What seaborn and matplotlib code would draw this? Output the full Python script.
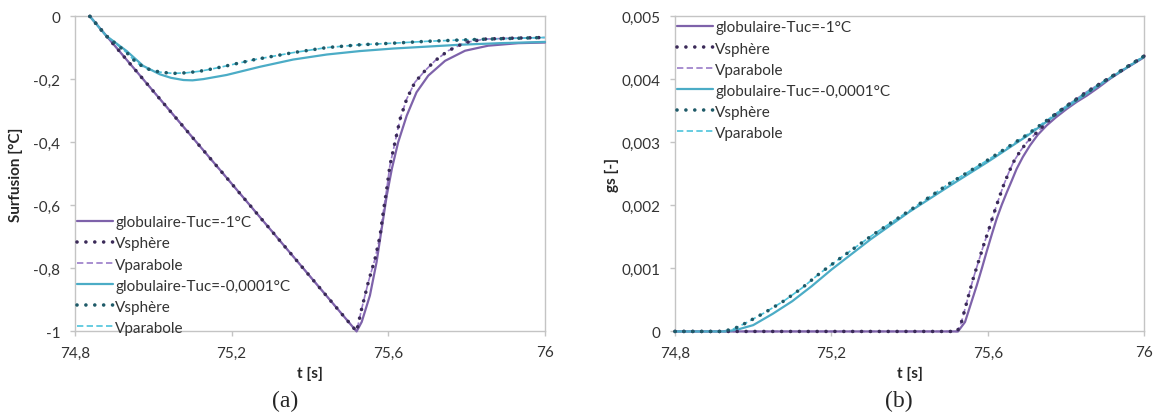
import matplotlib
matplotlib.use("Agg")
import matplotlib.pyplot as plt
import seaborn as sns
from matplotlib.ticker import FuncFormatter

sns.set_style("white")
plt.rcParams['font.family'] = ['Lato', 'DejaVu Sans']

# --- (a) undercooling, Tuc = -1 °C ---
a_t_glob1 = [74.838, 75.2, 75.519, 75.532, 75.553, 75.570, 75.583, 75.596, 75.609, 75.625,
             75.647, 75.672, 75.702, 75.745, 75.796, 75.855, 75.932, 76.0]
a_v_glob1 = [0.0, -0.531, -1.0, -0.970, -0.886, -0.780, -0.674, -0.569, -0.484, -0.400,
             -0.315, -0.241, -0.188, -0.141, -0.109, -0.093, -0.085, -0.083]
a_t_sph1 = [74.838, 75.2, 75.519, 75.532, 75.549, 75.566, 75.579, 75.587, 75.596, 75.604,
            75.617, 75.630, 75.647, 75.668, 75.694, 75.719, 75.753, 75.796, 75.847, 75.920, 76.0]
a_v_sph1 = [0.0, -0.531, -1.0, -0.928, -0.843, -0.770, -0.696, -0.622, -0.548, -0.474,
            -0.400, -0.326, -0.262, -0.209, -0.172, -0.141, -0.109, -0.083, -0.072, -0.069, -0.067]
a_t_par1, a_v_par1 = a_t_sph1, a_v_sph1   # Vparabole lies under Vsphère

# --- (a) undercooling, Tuc = -0.0001 °C ---
a_t_glob2 = [74.838, 74.880, 74.932, 74.974, 75.017, 75.045, 75.077, 75.100, 75.128, 75.187,
             75.272, 75.357, 75.443, 75.528, 75.613, 75.698, 75.783, 75.885, 76.0]
a_v_glob2 = [0.0, -0.062, -0.110, -0.157, -0.184, -0.195, -0.202, -0.203, -0.199, -0.186,
             -0.160, -0.137, -0.121, -0.110, -0.102, -0.096, -0.090, -0.085, -0.081]
a_t_sph2 = [74.838, 74.880, 74.932, 74.957, 74.983, 75.017, 75.051, 75.085, 75.119, 75.153,
            75.187, 75.255, 75.357, 75.443, 75.528, 75.613, 75.700, 75.783, 75.885, 76.0]
a_v_sph2 = [0.0, -0.062, -0.115, -0.147, -0.166, -0.177, -0.181, -0.179, -0.174, -0.166,
            -0.157, -0.138, -0.115, -0.099, -0.090, -0.085, -0.079, -0.075, -0.071, -0.067]
a_t_par2, a_v_par2 = a_t_sph2, a_v_sph2

# --- (b) solid fraction, Tuc = -1 °C ---
b_t_glob1 = [74.80, 75.524, 75.542, 75.557, 75.572, 75.585, 75.597, 75.610, 75.623, 75.636,
             75.649, 75.662, 75.674, 75.690, 75.708, 75.728, 75.751, 75.775, 75.802, 75.827,
             75.853, 75.883, 75.913, 75.955, 76.0]
b_g_glob1 = [0.0, 0.0, 0.00015, 0.00044, 0.00073, 0.00100, 0.00126, 0.00153, 0.00179, 0.00201,
             0.00221, 0.00240, 0.00258, 0.00277, 0.00295, 0.00312, 0.00327, 0.00340, 0.00353, 0.00364,
             0.00374, 0.00387, 0.00401, 0.00418, 0.00435]
b_t_sph1 = [74.80, 75.522, 75.533, 75.548, 75.563, 75.576, 75.589, 75.602, 75.614, 75.627,
            75.640, 75.653, 75.666, 75.683, 75.700, 75.734, 75.768, 75.802, 75.850, 75.900,
            75.950, 76.0]
b_g_sph1 = [0.0, 0.0, 0.00015, 0.00050, 0.00084, 0.00110, 0.00136, 0.00160, 0.00184, 0.00208,
            0.00231, 0.00251, 0.00269, 0.00286, 0.00300, 0.00321, 0.00342, 0.00358, 0.00379, 0.00398,
            0.00417, 0.00437]
b_t_par1, b_g_par1 = b_t_sph1, b_g_sph1

# --- (b) solid fraction, Tuc = -0.0001 °C ---
b_t_glob2 = [74.80, 74.93, 74.96, 75.00, 75.05, 75.10, 75.15, 75.20, 75.30, 75.40,
             75.50, 75.60, 75.70, 75.80, 75.90, 76.0]
b_g_glob2 = [0.0, 0.0, 0.00003, 0.00010, 0.00028, 0.00048, 0.00072, 0.00098, 0.00146, 0.00190,
             0.00230, 0.00269, 0.00310, 0.00355, 0.00397, 0.00436]
b_t_sph2 = [74.80, 74.92, 74.95, 74.98, 75.03, 75.08, 75.125, 75.17, 75.22, 75.31,
            75.41, 75.50, 75.60, 75.70, 75.80, 75.90, 76.0]
b_g_sph2 = [0.0, 0.0, 0.00004, 0.00013, 0.00030, 0.00049, 0.00069, 0.00092, 0.00115, 0.00155,
            0.00196, 0.00234, 0.00272, 0.00312, 0.00357, 0.00398, 0.00437]
b_t_par2, b_g_par2 = b_t_sph2, b_g_sph2

labels = ['globulaire-Tuc=-1°C', 'Vsphère', 'Vparabole',
          'globulaire-Tuc=-0,0001°C', 'Vsphère', 'Vparabole']
x_ticks = [74.8, 75.2, 75.6, 76.0]
a_ticks = [0, -0.2, -0.4, -0.6, -0.8, -1.0]
b_ticks = [0, 0.001, 0.002, 0.003, 0.004, 0.005]

# line styles: solid / round dots / dashes
styles = [
    dict(color='#7E62AA', lw=1.6, ls='-', zorder=3),
    dict(color='#3B2A58', lw=2.6, ls=(0, (0.01, 2.45)), dash_capstyle='round', zorder=5),
    dict(color='#9A7CC8', lw=1.2, ls=(0, (3.8, 2.0)), zorder=2),
    dict(color='#4BACC6', lw=1.6, ls='-', zorder=3),
    dict(color='#1E5A68', lw=2.6, ls=(0, (0.01, 2.45)), dash_capstyle='round', zorder=5),
    dict(color='#4DC3DB', lw=1.2, ls=(0, (3.8, 2.0)), zorder=2),
]


def comma(v, pos):
    s = ('%.4f' % v).rstrip('0').rstrip('.')
    if s in ('-0', ''):
        s = '0'
    return s.replace('.', ',')


def style_axes(ax, yticks):
    ax.set_xlim(74.8, 76.0)
    ax.set_xticks(x_ticks)
    ax.set_yticks(yticks)
    ax.xaxis.set_major_formatter(FuncFormatter(comma))
    ax.yaxis.set_major_formatter(FuncFormatter(comma))
    for sp in ax.spines.values():
        sp.set_color('#C4C4C4')
        sp.set_linewidth(1.0)
    ax.tick_params(axis='both', direction='out', length=3.6, width=1, color='#C4C4C4',
                   labelsize=11, labelcolor='#333333')
    ax.tick_params(axis='x', bottom=True, top=False, pad=6.5)
    ax.tick_params(axis='y', left=True, right=False, pad=7)


fig = plt.figure(figsize=(11.61, 4.14), dpi=100)
ax1 = fig.add_axes([0.0646, 0.197, 0.4048, 0.761])
ax2 = fig.add_axes([0.5814, 0.197, 0.4040, 0.761])

a_series = [(a_t_glob1, a_v_glob1), (a_t_sph1, a_v_sph1), (a_t_par1, a_v_par1),
            (a_t_glob2, a_v_glob2), (a_t_sph2, a_v_sph2), (a_t_par2, a_v_par2)]
b_series = [(b_t_glob1, b_g_glob1), (b_t_sph1, b_g_sph1), (b_t_par1, b_g_par1),
            (b_t_glob2, b_g_glob2), (b_t_sph2, b_g_sph2), (b_t_par2, b_g_par2)]

for (t, v), lab, st in zip(a_series, labels, styles):
    sns.lineplot(x=t, y=v, ax=ax1, label=lab, clip_on=False, **st)
for (t, v), lab, st in zip(b_series, labels, styles):
    sns.lineplot(x=t, y=v, ax=ax2, label=lab, clip_on=False, **st)

style_axes(ax1, a_ticks)
ax1.set_ylim(-1.0, 0.0)
style_axes(ax2, b_ticks)
ax2.set_ylim(0.0, 0.005)

lab_kw = dict(fontweight='bold', fontsize=11, color='#262626')
ax1.set_xlabel('t [s]', **lab_kw)
ax1.set_ylabel('Surfusion [°C]', **lab_kw)
ax2.set_xlabel('t [s]', **lab_kw)
ax2.set_ylabel('gs [-]', **lab_kw)
ax1.xaxis.set_label_coords(0.5, -0.108)
ax2.xaxis.set_label_coords(0.5, -0.108)
ax1.yaxis.set_label_coords(-0.11, 0.5)
ax2.yaxis.set_label_coords(-0.12, 0.5)

leg_kw = dict(frameon=False, fontsize=11, handlelength=2.35, handletextpad=0.15,
              labelspacing=0.46, borderpad=0, borderaxespad=0)
leg1 = ax1.legend(loc='lower left', bbox_to_anchor=(0.004, -0.01), **leg_kw)
leg2 = ax2.legend(loc='upper left', bbox_to_anchor=(0.004, 0.987), **leg_kw)
for leg in (leg1, leg2):
    for txt in leg.get_texts():
        txt.set_color('#333333')

fig.text(0.2455, 0.031, '(a)', ha='center', va='center', fontsize=17,
         family='Liberation Serif')
fig.text(0.774, 0.031, '(b)', ha='center', va='center', fontsize=17,
         family='Liberation Serif')

fig.savefig('out.png', dpi=100)
